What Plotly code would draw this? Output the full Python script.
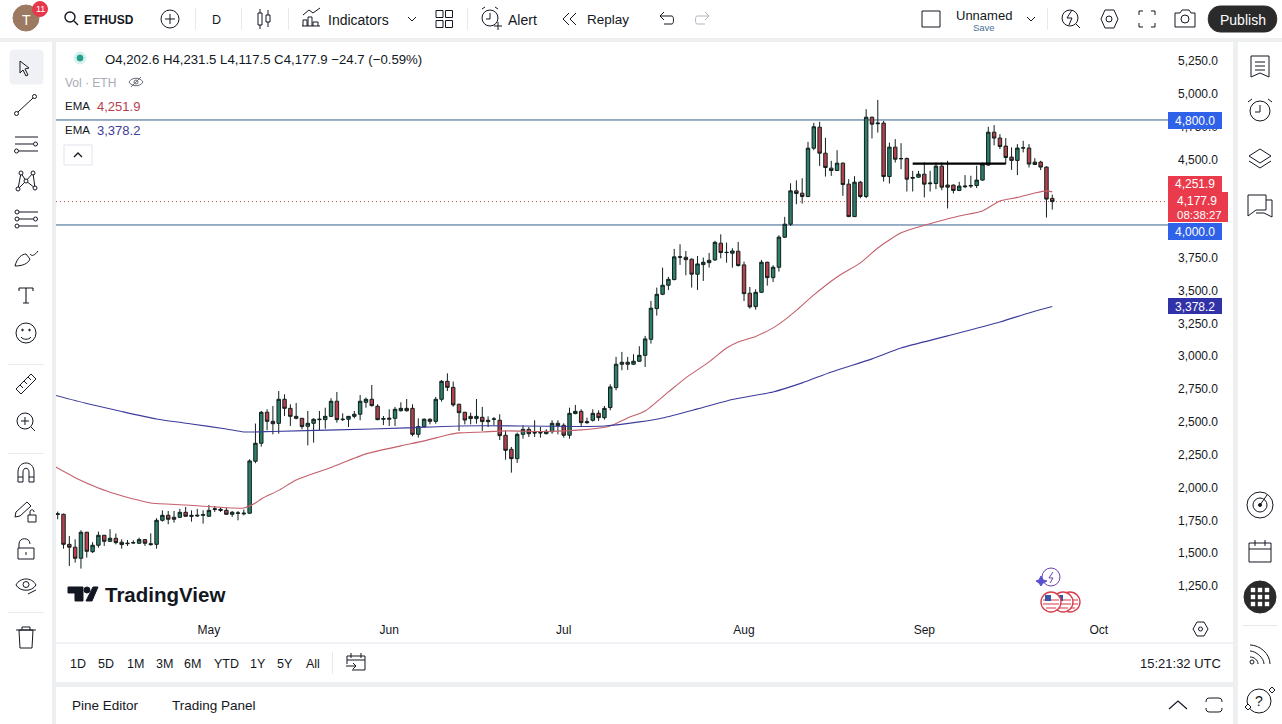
import re
import pandas as pd
import plotly.graph_objects as go

W = 1282
H = 724

# daily candles
opens = [
    1795, 1796, 1567, 1545, 1461, 1659, 1511, 1560, 1636, 1590,
    1613, 1583, 1572, 1577, 1575, 1603, 1572, 1567, 1750, 1788,
    1773, 1773, 1811, 1788, 1783, 1788, 1781, 1832, 1834, 1826,
    1796, 1804, 1799, 1804, 2200, 2337, 2573, 2504, 2489, 2672,
    2603, 2542, 2527, 2466, 2489, 2517, 2517, 2542, 2657, 2517,
    2520, 2542, 2558, 2649, 2672, 2619, 2520, 2520, 2527, 2585,
    2603, 2603, 2405, 2464, 2520, 2504, 2672, 2809, 2763, 2634,
    2573, 2542, 2525, 2535, 2512, 2520, 2512, 2398, 2291, 2220,
    2405, 2443, 2415, 2415, 2410, 2425, 2489, 2474, 2398, 2563,
    2580, 2502, 2512, 2565, 2532, 2609, 2761, 2939, 2954, 2939,
    2962, 3007, 3129, 3363, 3472, 3541, 3584, 3754, 3754, 3739,
    3625, 3698, 3713, 3734, 3861, 3792, 3785, 3800, 3696, 3480,
    3378, 3487, 3716, 3599, 3678, 3907, 4006, 4260, 4242, 4217,
    4585, 4745, 4547, 4433, 4415, 4471, 4311, 4064, 4326, 4217,
    4821, 4771, 4776, 4369, 4593, 4504, 4506, 4362, 4364, 4387,
    4314, 4316, 4448, 4304, 4304, 4263, 4291, 4296, 4301, 4342,
    4456, 4707, 4662, 4601, 4517, 4492, 4586, 4586, 4479, 4479,
    4441, 4202.6,
]
highs = [
    1816, 1801, 1631, 1605, 1674, 1662, 1583, 1664, 1638, 1682,
    1649, 1605, 1600, 1598, 1618, 1605, 1651, 1766, 1826, 1821,
    1821, 1837, 1852, 1826, 1837, 1826, 1867, 1857, 1847, 1847,
    1821, 1821, 1832, 2215, 2487, 2583, 2596, 2621, 2735, 2710,
    2634, 2644, 2530, 2583, 2527, 2583, 2608, 2680, 2728, 2565,
    2545, 2583, 2705, 2685, 2781, 2634, 2545, 2596, 2614, 2649,
    2674, 2634, 2527, 2527, 2527, 2690, 2819, 2870, 2807, 2638,
    2576, 2570, 2674, 2614, 2542, 2537, 2558, 2431, 2309, 2418,
    2474, 2461, 2512, 2461, 2443, 2512, 2512, 2489, 2608, 2629,
    2596, 2532, 2596, 2588, 2621, 2786, 2995, 3033, 2995, 3015,
    3076, 3155, 3421, 3523, 3675, 3604, 3818, 3853, 3802, 3745,
    3764, 3752, 3787, 3879, 3929, 3866, 3823, 3871, 3721, 3528,
    3510, 3734, 3720, 3693, 3922, 4062, 4318, 4340, 4356, 4633,
    4778, 4786, 4664, 4489, 4570, 4476, 4349, 4372, 4336, 4882,
    4825, 4953, 4793, 4628, 4654, 4623, 4514, 4412, 4412, 4476,
    4413, 4476, 4476, 4489, 4308, 4329, 4380, 4375, 4451, 4476,
    4748, 4761, 4692, 4662, 4591, 4616, 4641, 4616, 4509, 4489,
    4446, 4231.5,
]
lows = [
    1758, 1534, 1402, 1428, 1382, 1466, 1501, 1542, 1555, 1585,
    1567, 1534, 1555, 1572, 1572, 1555, 1557, 1534, 1740, 1720,
    1732, 1768, 1776, 1740, 1776, 1725, 1776, 1814, 1814, 1791,
    1776, 1750, 1788, 1801, 2185, 2312, 2436, 2405, 2410, 2545,
    2469, 2519, 2443, 2321, 2342, 2436, 2448, 2537, 2494, 2507,
    2461, 2527, 2512, 2608, 2616, 2512, 2476, 2469, 2469, 2578,
    2578, 2390, 2380, 2456, 2481, 2486, 2654, 2735, 2616, 2431,
    2481, 2481, 2486, 2431, 2461, 2476, 2362, 2212, 2113, 2187,
    2372, 2385, 2385, 2380, 2405, 2410, 2405, 2380, 2372, 2558,
    2464, 2486, 2502, 2507, 2517, 2588, 2741, 2893, 2896, 2936,
    2957, 2918, 3096, 3310, 3465, 3505, 3579, 3696, 3617, 3523,
    3505, 3574, 3675, 3726, 3746, 3713, 3675, 3683, 3421, 3363,
    3355, 3482, 3538, 3566, 3645, 3900, 3993, 4158, 4163, 4212,
    4570, 4450, 4369, 4374, 4412, 4222, 4060, 4060, 4204, 4204,
    4659, 4704, 4331, 4316, 4476, 4425, 4255, 4255, 4360, 4210,
    4255, 4273, 4265, 4126, 4240, 4258, 4281, 4281, 4281, 4337,
    4452, 4606, 4578, 4464, 4420, 4380, 4553, 4438, 4458, 4418,
    4057, 4117.5,
]
closes = [
    1799, 1567, 1545, 1461, 1659, 1514, 1560, 1636, 1590, 1613,
    1580, 1565, 1575, 1580, 1603, 1575, 1565, 1750, 1788, 1758,
    1758, 1811, 1781, 1781, 1788, 1793, 1826, 1837, 1826, 1796,
    1811, 1806, 1804, 2202, 2337, 2573, 2504, 2486, 2672, 2603,
    2542, 2527, 2464, 2489, 2520, 2520, 2542, 2657, 2517, 2520,
    2542, 2558, 2657, 2672, 2624, 2517, 2525, 2527, 2596, 2603,
    2585, 2405, 2464, 2520, 2504, 2672, 2809, 2763, 2629, 2570,
    2514, 2525, 2542, 2502, 2502, 2522, 2395, 2283, 2220, 2405,
    2443, 2410, 2418, 2418, 2428, 2489, 2471, 2398, 2565, 2580,
    2494, 2494, 2565, 2532, 2603, 2766, 2939, 2954, 2939, 2962,
    3007, 3132, 3366, 3472, 3541, 3586, 3757, 3757, 3736, 3625,
    3703, 3716, 3731, 3868, 3790, 3790, 3802, 3691, 3477, 3376,
    3487, 3716, 3599, 3678, 3907, 4006, 4260, 4240, 4217, 4585,
    4748, 4547, 4438, 4415, 4471, 4308, 4064, 4326, 4217, 4821,
    4768, 4776, 4369, 4593, 4501, 4506, 4349, 4357, 4387, 4311,
    4319, 4448, 4288, 4288, 4263, 4296, 4296, 4301, 4342, 4464,
    4707, 4662, 4598, 4514, 4492, 4586, 4588, 4464, 4461, 4441,
    4197, 4177.9,
]

# the two EMA lines, read at day numbers counted from the first candle
ema_red_days = [-1, 3, 7, 10, 13, 16, 22, 27, 32, 34, 35, 38, 41, 47, 53, 59, 63, 67, 69, 73,
                77, 84, 90, 95, 98, 101, 105, 108, 112, 115, 117, 120, 123, 125, 127, 130,
                134, 138, 141, 145, 148, 151, 155, 159, 162, 165, 168, 170, 171]
ema_red = [2172, 2075, 1997, 1951, 1913, 1882, 1867, 1852, 1844, 1882, 1913, 1978, 2058, 2153,
           2256, 2317, 2355, 2400, 2416, 2423, 2431, 2427, 2439, 2469, 2530, 2583, 2728, 2835,
           2957, 3063, 3109, 3151, 3216, 3277, 3349, 3467, 3604, 3711, 3825, 3940, 3985, 4023,
           4069, 4107, 4183, 4210, 4244, 4260, 4251.9]
ema_blue_days = [-1, 5, 11, 17, 23, 29, 32, 37, 48, 60, 69, 80, 89, 94, 100, 104, 110, 116, 123,
                 128, 133, 140, 145, 153, 162, 167, 171]
ema_blue = [2709, 2640, 2579, 2522, 2484, 2446, 2423, 2427, 2439, 2454, 2469, 2469, 2465, 2469,
            2500, 2530, 2599, 2671, 2728, 2797, 2880, 2980, 3063, 3155, 3261, 3330, 3378.2]

# lines drawn on the chart
level_lines = [4800, 4000]
last_price = 4177.9
drawn_days = [147, 163]
drawn_level = 4468

# 4,000 and 4,250 sit fully behind the coloured price boxes
y_ticks = [1250, 1500, 1750, 2000, 2250, 2500, 2750, 3000, 3250, 3500, 3750, 4500,
           4750, 5000, 5250]
month_ticks = ["2025-05-01", "2025-06-01", "2025-07-01", "2025-08-01", "2025-09-01", "2025-10-01"]
month_names = ["May", "Jun", "Jul", "Aug", "Sep", "Oct"]
range_names = ["1D", "5D", "1M", "3M", "6M", "YTD", "1Y", "5Y", "All"]

first_day = pd.Timestamp("2025-04-05")
dates = [first_day + pd.Timedelta(days=i) for i in range(len(opens))]


def day(i):
    return first_day + pd.Timedelta(days=i)


FONT = "Liberation Sans"
INK = "#131722"
GREEN = "#2f7d6b"
RED = "#b8404e"
EMA_RED = "#c4606c"
EMA_BLUE = "#3c3c9c"
SEP = "#e8e9ed"
shapes = []
notes = []


# the page furniture is placed in screen pixels
def fx(x):
    return x / W


def fy(y):
    return 1 - y / H


def rect(x0, y0, x1, y1, fill, line=None, lw=1, layer="above"):
    shapes.append(dict(type="rect", xref="paper", yref="paper", x0=fx(x0), x1=fx(x1), y0=fy(y0), y1=fy(y1),
                       fillcolor=fill, line=dict(color=line or fill, width=lw if line else 0), layer=layer))


def circle(cx, cy, r, fill="rgba(0,0,0,0)", line=INK, lw=1):
    shapes.append(dict(type="circle", xref="paper", yref="paper", x0=fx(cx - r), x1=fx(cx + r),
                       y0=fy(cy - r), y1=fy(cy + r), fillcolor=fill, line=dict(color=line, width=lw)))


def path(d, line=INK, lw=1, fill="rgba(0,0,0,0)"):
    nums = iter(range(10 ** 6))

    def conv(m):
        v = float(m.group())
        return f"{fx(v):.5f}" if next(nums) % 2 == 0 else f"{fy(v):.5f}"

    shapes.append(dict(type="path", xref="paper", yref="paper", path=re.sub(r"-?\d+\.?\d*", conv, d),
                       fillcolor=fill, line=dict(color=line, width=lw)))


def text(x, y, s, size=12, color=INK, anchor="left", bold=False):
    if anchor == "left":
        x -= 1
    notes.append(dict(xref="paper", yref="paper", x=fx(x), y=fy(y + 0.5), text=f"<b>{s}</b>" if bold else s,
                      showarrow=False, xanchor=anchor, yanchor="middle", borderpad=0,
                      font=dict(family=FONT, size=size, color=color)))


# panels
rect(0, 0, W, 38, "white", layer="below")
rect(0, 42, 52, H, "white", layer="below")
rect(56, 42, 1233, 682, "white", layer="below")
rect(56, 687, 1233, H, "white", layer="below")
rect(1238, 42, W, H, "white", layer="below")
rect(56, 642.5, 1233, 643.5, "#e0e3eb", layer="below")

# horizontal levels under the candles
for level in level_lines:
    shapes.append(dict(type="line", xref="paper", yref="y", x0=fx(56), x1=fx(1168), y0=level, y1=level,
                       line=dict(color="#34608c", width=1), layer="below"))
shapes.append(dict(type="line", xref="paper", yref="y", x0=fx(56), x1=fx(1168), y0=last_price, y1=last_price,
                   line=dict(color="#c8404e", width=1, dash="1px,3px"), layer="below"))

# top bar
for sep_x in (195, 241, 288, 467, 1047):
    rect(sep_x, 8, sep_x + 1, 30, SEP)
circle(26, 18, 13, fill="#9c7a62", line="#9c7a62")
text(26, 19, "T", 14, "white", "center")
circle(40, 9, 7.5, fill="#e5384b", line="#e5384b")
text(40, 9, "11", 9, "white", "center")
circle(70, 17, 5, lw=1.4)
path("M74,21 L78,25", lw=1.4)
text(84, 19, "ETHUSD", 12, INK, bold=True)
circle(170, 19, 9)
path("M170,14 L170,24 M165,19 L175,19")
text(217, 19, "D", 12.5, INK, "center")
rect(258, 13, 262, 25, "white", INK)
rect(266, 15, 270, 22, "white", INK)
path("M260,9 L260,13 M260,25 L260,29 M268,10 L268,15 M268,22 L268,27")
path("M303,26 L303,20 L307,20 L307,26 M308,26 L308,17 L312,17 L312,26 M313,26 L313,22 L318,22 L318,26 M302,26 L320,26 M303,15 L309,10 L313,13 L320,8")
text(328, 19, "Indicators", 14)
path("M408,17 L412,21 L416,17")
for cx in (439.5, 449):
    for cy in (14, 24):
        rect(cx - 3.5, cy - 3.5, cx + 3.5, cy + 3.5, "white", INK)
circle(490, 18, 8)
path("M490,13 L490,19 L486,19 M498,22 L498,30 M494,26 L502,26 M482,9 L485,7 M498,9 L495,7")
text(508, 19, "Alert", 14)
path("M569,13 L563,19 L569,25 M576,13 L570,19 L576,25")
text(587, 19, "Replay", 13.5)
path("M660,16 L672,16 C674,16 674,24 672,24 L664,24 M660,16 L664,12 M660,16 L664,20")
path("M709,16 L697,16 C695,16 695,24 697,24 L705,24 M709,16 L705,12 M709,16 L705,20", line="#b2b5be")
rect(922, 11, 940, 27, "white", INK)
text(984, 15, "Unnamed", 13, INK, "center")
text(984, 27, "Save", 9.5, "#4a6f9c", "center")
path("M1027,17 L1031,21 L1035,17")
circle(1070, 18, 8)
path("M1076,24 L1080,28 M1072,10 L1067,18 L1072,18 L1069,25")
path("M1101,19 L1105,10 L1114,10 L1118,19 L1114,28 L1105,28 Z")
circle(1109, 19, 3)
path("M1139,15 L1139,11 L1143,11 M1151,11 L1155,11 L1155,15 M1155,23 L1155,27 L1151,27 M1143,27 L1139,27 L1139,23")
path("M1175,13 L1180,13 L1182,10 L1189,10 L1191,13 L1195,13 L1195,27 L1175,27 Z")
circle(1185, 19, 4)
path("M1221,6 L1264,6 C1281,6 1281,32 1264,32 L1221,32 C1204,32 1204,6 1221,6 Z", line="#2a2a2a", fill="#2a2a2a")
text(1242.5, 19, "Publish", 14, "white", "center")

# left toolbar
path("M17,50 L35,50 C43,50 43,50 43,58 L43,76 C43,84 43,84 35,84 L17,84 C10,84 10,84 10,76 L10,58 C10,50 10,50 17,50 Z",
     line="#f0f1f4", fill="#f0f1f4")
path("M20,61 L29,68 L25,69 L28,75 L26,76 L23,70 L20,73 Z")
path("M18,112 L33,98")
circle(16.5, 113.5, 2)
circle(34.5, 96.5, 2)
path("M15,137 L38,137 M15,144 L33,144 M19,151 L38,151")
circle(35.5, 144, 2)
circle(16.5, 151, 2)
path("M18,189 L21,173 L26,181 L33,173 L35,188 L26,181 Z")
for cx, cy in ((18, 189), (21, 173), (26, 181), (33, 173), (35, 188)):
    circle(cx, cy, 2, fill="white")
path("M19,212 L38,212 M19,219 L33,219 M19,226 L38,226")
for cx, cy in ((17, 212), (17, 219), (35.5, 219), (17, 226)):
    circle(cx, cy, 2)
path("M15,266 C17,258 22,254 26,254 L30,259 C28,264 22,266 15,266 Z M30,254 C32,257 35,255 38,251")
path("M19,288 L33,288 M26,288 L26,303 M19,288 L19,291 M33,288 L33,291 M23,303 L29,303", lw=1.1)
circle(26, 333, 10)
circle(22.5, 330, 0.8, fill=INK)
circle(29.5, 330, 0.8, fill=INK)
path("M21,337 C23,340 29,340 31,337")
path("M16,389 L31,374 L36,379 L21,394 Z M20,385 L23,388 M24,381 L27,384 M28,377 L31,380")
circle(25, 421, 8)
path("M31,427 L35,431 M25,417 L25,425 M21,421 L29,421")
path("M18,482 L18,472 C18,460 34,460 34,472 L34,482 L29,482 L29,472 C29,467 23,467 23,472 L23,482 Z M18,477 L23,477 M29,477 L34,477")
path("M16,512 L27,502 L31,506 L20,516 L15,517 Z")
rect(28, 515, 36, 522, "white", INK)
path("M30,515 L30,512 C30,509 34,509 34,512")
path("M19,548 L19,544 C19,537 30,537 30,544 M18,548 L34,548 L34,559 L18,559 Z M26,552 L26,555")
path("M16,585 C20,577 32,577 36,585 C32,592 20,592 16,585 Z")
circle(26, 584.5, 3)
path("M28,594 L36,590")
path("M19,630 L33,630 L32,648 L20,648 Z M16,630 L36,630 M22,630 L22,627 L30,627 L30,630")
for sep in (364, 453, 612):
    rect(8, sep, 44, sep + 1, SEP)

# right toolbar
path("M1251,56 L1269,56 L1269,77 L1260,73 L1251,77 Z M1255,62 L1265,62 M1255,66 L1265,66 M1255,70 L1265,70")
circle(1260, 111, 10)
path("M1260,105 L1260,112 L1255,112 M1248,102 L1252,99 M1272,102 L1268,99")
path("M1260,149 L1271,156 L1260,163 L1249,156 Z M1249,161 L1260,168 L1271,161")
path("M1248,195 L1266,195 L1266,210 L1256,210 L1248,216 Z M1266,200 L1272,200 L1272,217 L1264,213 L1256,213")
circle(1260, 505, 13)
circle(1260, 505, 7)
circle(1260, 505, 1.5, fill=INK)
path("M1260,505 L1267,495")
path("M1249,543 L1271,543 L1271,562 L1249,562 Z M1249,549 L1271,549 M1255,540 L1255,546 M1265,540 L1265,546")
circle(1260, 597, 16, fill="#2a2a2a", line="#2a2a2a")
for cy in (590, 597, 604):
    for cx in (1253, 1260, 1267):
        rect(cx - 2.2, cy - 2.2, cx + 2.2, cy + 2.2, "white")
rect(1243, 625, 1277, 626, SEP)
path("M1250,645 C1260,645 1270,654 1270,664 M1250,651 C1256,651 1264,658 1264,664 M1250,657 C1254,657 1258,660 1258,664")
circle(1252, 662, 2)
circle(1259, 701, 12)
text(1259, 700, "?", 14, INK, "center")
path("M1272,687 L1275,690 L1272,693 L1269,690 Z M1248,704 L1251,707 L1248,710 L1245,707 Z", fill="white")

# price boxes at the right
rect(1168, 112, 1222, 129, "#2f62e8")
text(1195, 120.5, "4,800.0", 12, "white", "center")
rect(1168, 176, 1222, 192, "#ea3b4c")
text(1195, 184, "4,251.9", 12, "white", "center")
rect(1168, 192, 1228, 222, "#ea3b4c")
text(1197, 201, "4,177.9", 12, "white", "center")
text(1199, 214, "08:38:27", 11.5, "white", "center")
rect(1168, 223, 1222, 240, "#2f62e8")
text(1195, 231.5, "4,000.0", 12, "white", "center")
rect(1168, 298, 1222, 314, "#3232a8")
text(1195, 306, "3,378.2", 12, "white", "center")

# legend block
circle(80, 58, 6, fill="#d8f0ec", line="#d8f0ec")
circle(80, 58, 3, fill="#22a08c", line="#22a08c")
text(105, 59, "O4,202.6 H4,231.5 L4,117.5 C4,177.9 −24.7 (−0.59%)", 13.2)
text(65, 82, "Vol · ETH", 12, "#a8abb5")
path("M129,82 C132,77 140,77 143,82 C140,87 132,87 129,82 Z M131,87 L141,77", line="#6a6d78")
circle(136, 82, 2, line="#6a6d78")
text(65, 106, "EMA", 11.5)
text(97, 106, "4,251.9", 13, "#b8404e")
text(65, 130, "EMA", 11.5)
text(97, 130, "3,378.2", 13, "#3c3c9c")
rect(64, 145, 92, 165, "white", "#e0e3eb")
path("M74,157 L78,153 L82,157", lw=1.3)

# logo
path("M68,587 L83,587 L83,601 L75,601 L75,593 L68,593 Z", fill=INK)
circle(87, 590, 3, fill=INK)
path("M93,587 L98,587 L92,601 L86,601 Z", fill=INK)
text(105, 594, "TradingView", 20.5, INK, bold=True)

# event markers
circle(1051, 577, 9, line="#6a3fb5")
path("M1053,572 L1049,578 L1053,578 L1050,583", line="#6a3fb5")
path("M1041,576 L1043,580 L1047,581 L1043,583 L1041,586 L1039,583 L1036,581 L1039,580 Z", line="#5b4fd0", fill="#5b4fd0")
for cx in (1070, 1063, 1051):
    circle(cx, 602, 10, fill="white", line="#d8404e", lw=1.4)
    path(f"M{cx - 8},600 L{cx + 8},600 M{cx - 8},604 L{cx + 8},604 M{cx - 5},608 L{cx + 5},608", line="#e57a84", lw=1.4)
    rect(cx - 6, 595, cx, 601, "#3a56a8")

# time strip and bottom bars
path("M1193,629 L1197,622 L1204,622 L1208,629 L1204,636 L1197,636 Z")
circle(1200.5, 629, 2)
range_pos = [78, 106, 135, 164, 193, 226, 258, 285, 313]
for name, pos in zip(range_names, range_pos):
    text(pos, 663, name, 12.5, INK, "center")
rect(332, 652, 333, 674, SEP)
path("M347,664 L347,656 L365,656 L365,670 L352,670 M347,660 L365,660 M351,653 L351,658 M361,653 L361,658 M346,666 L356,666 M353,663 L356,666 L353,669")
text(1222, 663, "15:21:32 UTC", 13, INK, "right")
text(72, 705, "Pine Editor", 13.5)
text(172, 705, "Trading Panel", 13.5)
path("M1169,709 L1178,701 L1187,709", lw=1.2)
path("M1206,702 C1206,699 1207,698 1210,698 M1218,698 C1221,698 1222,699 1222,702 M1222,708 C1222,711 1221,712 1218,712 M1210,712 C1207,712 1206,711 1206,708 M1210,698 L1218,698 M1210,712 L1218,712")

fig = go.Figure()
fig.add_trace(go.Candlestick(
    x=dates, open=opens, high=highs, low=lows, close=closes,
    increasing=dict(fillcolor=GREEN, line=dict(color="#10201c", width=1)),
    decreasing=dict(fillcolor=RED, line=dict(color="#10201c", width=1)),
    whiskerwidth=0, showlegend=False, hoverinfo="skip",
))
fig.add_trace(go.Scatter(
    x=[day(i) for i in ema_red_days], y=ema_red, mode="lines",
    line=dict(color=EMA_RED, width=1.1, shape="spline", smoothing=0.6), showlegend=False, hoverinfo="skip",
))
fig.add_trace(go.Scatter(
    x=[day(i) for i in ema_blue_days], y=ema_blue, mode="lines",
    line=dict(color=EMA_BLUE, width=1.1, shape="spline", smoothing=0.6), showlegend=False, hoverinfo="skip",
))
fig.add_trace(go.Scatter(
    x=[day(i) for i in drawn_days], y=[drawn_level, drawn_level], mode="lines",
    line=dict(color="black", width=2.2), showlegend=False, hoverinfo="skip",
))

fig.update_layout(
    width=W, height=H,
    margin=dict(l=0, r=0, t=0, b=0),
    paper_bgcolor="#eeeff1",
    plot_bgcolor="rgba(0,0,0,0)",
    font=dict(family=FONT, size=12, color=INK),
    boxgap=0.15,
    shapes=shapes,
    annotations=notes,
    xaxis=dict(
        domain=[fx(56), fx(1168)], type="date",
        range=["2025-04-04 17:00", "2025-10-12 21:30"],
        tickmode="array", tickvals=month_ticks, ticktext=month_names,
        showgrid=False, zeroline=False, showline=False, ticks="",
        ticklabelstandoff=5, rangeslider=dict(visible=False),
    ),
    yaxis=dict(
        domain=[fy(616), fy(42)], side="right",
        range=[1021, 5394],
        tickmode="array", tickvals=y_ticks, tickformat=",.1f",
        showgrid=False, zeroline=False, showline=False, ticks="",
        ticklabelstandoff=9,
    ),
)

fig.write_html("out.html", config=dict(displayModeBar=False),
               post_script="document.body.style.margin='0';document.body.style.overflow='hidden';")
